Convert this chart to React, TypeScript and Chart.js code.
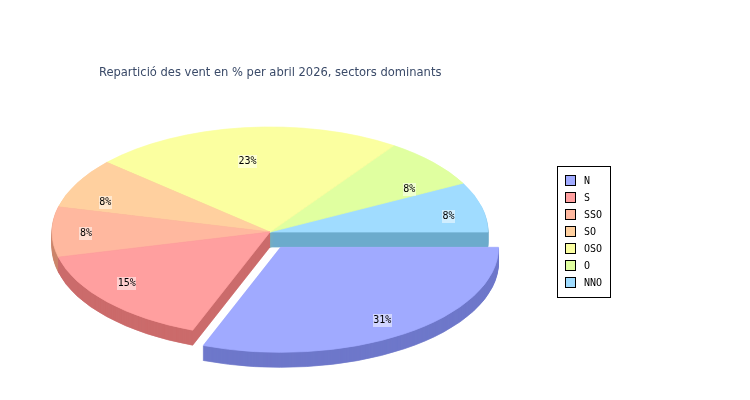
import React, { useEffect, useRef } from "react";
import { Chart, registerables } from "chart.js";

Chart.register(...registerables);

const titleText = "Repartició des vent en % per abril 2026, sectors dominants";
const categories = ["N", "S", "SSO", "SO", "OSO", "O", "NNO"];
const counts = [4, 2, 1, 1, 3, 1, 1];
const topColors = ["#a0aaff", "#ff9f9f", "#ffb89f", "#ffd09f", "#fbffa0", "#e0ffa0", "#a0dcff"];
const wallColors = ["#6e78ca", "#cb6b6b", "#cb856b", "#cb9c6b", "#c7cb6c", "#accb6c", "#6eabcc"];
const explode = [18.6, 0, 0, 0, 0, 0, 0];
const labelShiftX = [-4, -4, 2, 0, 0, 0, -2];
const labelShiftY = [8, -1, -2, 2, 1, 4, -1];
const wallOrder = [4, 5, 6, 3, 2, 1, 0];

const RADIUS = 218;
const SQUASH = 105 / 218;
const DEPTH = 15;
const MONO = '"DejaVu Sans Mono", monospace';

const pie3d = {
  id: "pie3d",
  afterLayout(chart: any) {
    // place the pie's box, title and legend where the reference has them
    chart.chartArea.left = 52;
    chart.chartArea.right = 488;
    chart.chartArea.top = 127;
    chart.chartArea.bottom = 337;
    chart.chartArea.width = 436;
    chart.chartArea.height = 210;
    const t = chart.titleBlock;
    t.left = 99;
    t.right = 750;
    t.top = 65;
    t.bottom = 80;
    const l = chart.legend;
    l.left = 558;
    l.right = 610;
    l.top = 169;
    l.bottom = 297;
    l.width = 52;
    l.height = 128;
  },
  beforeDraw(chart: any) {
    const ctx = chart.ctx;
    ctx.save();
    ctx.fillStyle = "#ffffff";
    ctx.fillRect(557.5, 166.5, 53, 131);
    ctx.strokeStyle = "#000000";
    ctx.lineWidth = 1;
    ctx.strokeRect(557.5, 166.5, 53, 131);
    categories.forEach((_, i) => {
      const y = 175 + i * 17;
      ctx.fillStyle = topColors[i];
      ctx.fillRect(565.5, y + 0.5, 10, 10);
      ctx.strokeRect(565.5, y + 0.5, 10, 10);
    });
    ctx.restore();
  },
  beforeDatasetDraw(chart: any, args: any) {
    const ctx = chart.ctx;
    const arcs = chart.getDatasetMeta(args.index).data;
    const total = counts.reduce((a, b) => a + b, 0);
    const shift = (arc: any, i: number) => {
      const mid = (arc.startAngle + arc.endAngle) / 2;
      return [Math.cos(mid) * explode[i], Math.sin(mid) * explode[i]];
    };
    const paint = (arc: any, i: number, dy: number, color?: string) => {
      const [ex, ey] = shift(arc, i);
      const saved = arc.options;
      if (color) arc.options = { ...saved, backgroundColor: color, borderColor: color };
      ctx.save();
      ctx.translate(arc.x + ex, arc.y + ey + dy);
      ctx.scale(1, SQUASH);
      ctx.translate(-arc.x, -arc.y);
      arc.draw(ctx);
      ctx.restore();
      arc.options = saved;
    };
    wallOrder.forEach((i) => {
      for (let d = DEPTH; d >= 1; d--) paint(arcs[i], i, d, wallColors[i]);
    });
    for (let i = arcs.length - 1; i >= 0; i--) paint(arcs[i], i, 0);

    ctx.save();
    ctx.font = `10px ${MONO}`;
    ctx.textAlign = "center";
    ctx.textBaseline = "middle";
    arcs.forEach((arc: any, i: number) => {
      const mid = (arc.startAngle + arc.endAngle) / 2;
      const [ex, ey] = shift(arc, i);
      const x = arc.x + ex + 186 * Math.cos(mid) + labelShiftX[i];
      const y = arc.y + ey + 3 + 75 * Math.sin(mid) + labelShiftY[i];
      const text = `${Math.round((counts[i] / total) * 100)}%`;
      const w = ctx.measureText(text).width + 1;
      ctx.fillStyle = "rgba(255,255,255,0.5)";
      ctx.fillRect(Math.round(x - w / 2), Math.round(y - 6.5), Math.round(w), 13);
      ctx.fillStyle = "#000000";
      ctx.fillText(text, x, y);
    });
    ctx.restore();
    return false;
  },
};

export default function App() {
  const ref = useRef<HTMLCanvasElement>(null);
  useEffect(() => {
    const chart = new Chart(ref.current as HTMLCanvasElement, {
      type: "pie",
      plugins: [pie3d],
      data: {
        labels: categories,
        datasets: [
          {
            data: counts,
            backgroundColor: topColors,
            borderColor: topColors,
            borderWidth: 1,
            radius: RADIUS,
          } as any,
        ],
      },
      options: {
        responsive: false,
        animation: false,
        rotation: 90,
        layout: { padding: 0 },
        plugins: {
          tooltip: { enabled: false },
          title: {
            display: true,
            text: titleText,
            align: "start",
            color: "#3a4a68",
            padding: 0,
            font: { family: '"DejaVu Sans Condensed", "DejaVu Sans"', size: 12.8, weight: "normal" },
          },
          legend: {
            position: "right",
            align: "start",
            labels: {
              boxWidth: 14,
              boxHeight: 10,
              padding: 7,
              color: "#000000",
              font: { family: MONO, size: 10 },
              generateLabels: (c: any) =>
                (Chart as any).overrides.pie.plugins.legend.labels
                  .generateLabels(c)
                  .map((it: any) => ({ ...it, fillStyle: "rgba(0,0,0,0)", strokeStyle: "rgba(0,0,0,0)", lineWidth: 0 })),
            },
          },
        },
      } as any,
    });
    return () => chart.destroy();
  }, []);
  return (
    <div style={{ position: "absolute", left: 0, top: 0, width: 750, height: 400, background: "#fff" }}>
      <canvas ref={ref} width={750} height={400} style={{ display: "block" }} />
    </div>
  );
}
